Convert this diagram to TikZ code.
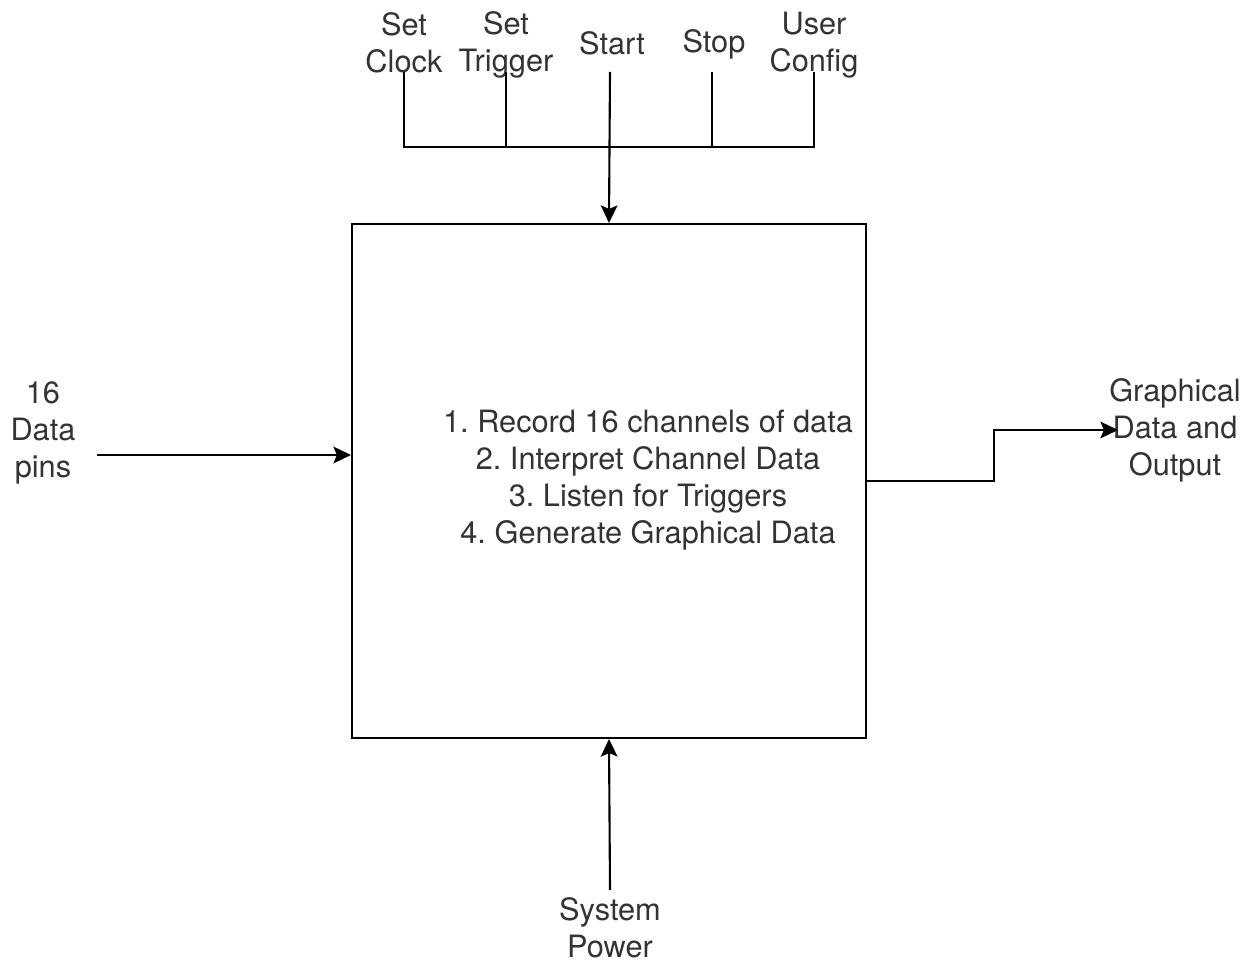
\documentclass[tikz,border=0pt]{standalone}
\usepackage{fontspec}
\setmainfont{TeX Gyre Heros}
\frenchspacing
\usetikzlibrary{positioning,arrows.meta}

\begin{document}
\begin{tikzpicture}[x=0.02cm, y=-0.02cm, font=\fontsize{17.5}{21}\selectfont,
  lbl/.style={align=center, inner sep=0pt, text=black!80},
  blk/.style={draw=black, line width=1.2pt, minimum width=10.28cm, minimum height=10.28cm, inner sep=0pt},
  wire/.style={draw=black, line width=1.2pt},
  arr/.style={wire, -{Stealth[length=10pt, width=9.5pt, inset=2pt]}}]
\useasboundingbox (0,0) rectangle (1252,962);
% main block and its task list
\node[blk] (core) at (609,481) {};
\node[lbl] (tasks) at (648,480) {1. Record 16 channels of data\\ 2. Interpret Channel Data\\
  3. Listen for Triggers\\ 4. Generate Graphical Data};
% control inputs on top
\node[lbl] (clk) at (404,43) {Set\\ Clock};
\node[lbl] (trg) at (506,45) {Set\\ Trigger};
\node[lbl] (sta) at (612,43) {Start};
\node[lbl] (stp) at (714,44) {Stop};
\node[lbl] (cfg) at (814,45) {User\\ Config};
\foreach \n/\x in {clk/404, trg/506, sta/610, stp/712, cfg/814} \coordinate (\n tap) at (\x,72);
\coordinate (bus) at (610,147);
\draw[wire] (clktap) |- (cfgtap |- bus) -- (cfgtap);
\foreach \n in {trg, stp} \draw[wire] (\n tap) -- (\n tap |- bus);
\draw[arr] (statap) -- (core.north);
% data in, output, power
\node[lbl] (pins) at (43,433) {16\\ Data\\ pins};
\coordinate (pinsout) at (97,455);
\draw[arr] (pinsout) -- (pinsout -| core.west);
\node[lbl] (gout) at (1175,430) {Graphical\\ Data and\\ Output};
\coordinate (bend) at (994,430);
\coordinate (goutin) at (1118,430);
\draw[arr] (core.east) -| (bend) -- (goutin);
\node[lbl] (pwr) at (610,928) {System\\ Power};
\coordinate (pwrtap) at (610,890);
\draw[arr] (pwrtap) -- (core.south);
\end{tikzpicture}
\end{document}
